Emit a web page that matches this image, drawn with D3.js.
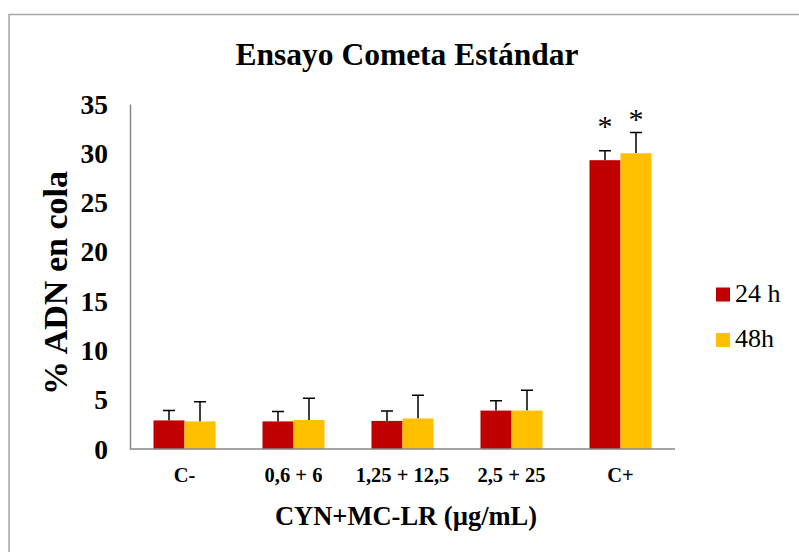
<!DOCTYPE html>
<html>
<head>
<meta charset="utf-8">
<script src="https://cdn.jsdelivr.net/npm/d3@7"></script>
<style>
  body { margin: 0; background: #fff; }
  svg text { font-family: "Liberation Serif", "Times New Roman", serif; fill: #000; }
</style>
</head>
<body>
<div id="chart"></div>
<script>
// Data
const categories = ["C-", "0,6 + 6", "1,25 + 12,5", "2,5 + 25", "C+"];
const seriesNames = ["24 h", "48h"];
const values24 = [2.9, 2.8, 2.85, 3.9, 29.3];
const errors24 = [1.0, 1.0, 1.0, 1.0, 0.95];
const values48 = [2.8, 2.95, 3.1, 3.9, 30.0];
const errors48 = [2.0, 2.2, 2.35, 2.05, 2.1];
const marks24 = ["", "", "", "", "*"];
const marks48 = ["", "", "", "", "*"];
const yTicks = [0, 5, 10, 15, 20, 25, 30, 35];
const colors = ["#C00000", "#FFC000"];

const W = 799, H = 552;
const plot = { left: 130, right: 675, top: 104, bottom: 449 };
const serif = "'Liberation Serif', 'Times New Roman', serif";

const svg = d3.select("#chart")
    .append("svg")
    .attr("width", W)
    .attr("height", H);

// outer frame (only top/left visible in the picture)
svg.append("rect")
    .attr("x", 9)
    .attr("y", 14.5)
    .attr("width", 820)
    .attr("height", 600)
    .attr("fill", "none")
    .attr("stroke", "#a6a6a6")
    .attr("stroke-width", 1.5);

const x0 = d3.scaleBand()
    .domain(categories)
    .range([plot.left, plot.right])
    .paddingInner(0.431)
    .paddingOuter(0.2155);

const x1 = d3.scaleBand()
    .domain(seriesNames)
    .range([0, x0.bandwidth()]);

const y = d3.scaleLinear()
    .domain([0, 35])
    .range([plot.bottom, plot.top]);

// build rows from the arrays
const rows = categories.map((c, i) => ({
    cat: c,
    bars: [
        { s: seriesNames[0], v: values24[i], e: errors24[i], m: marks24[i], col: colors[0] },
        { s: seriesNames[1], v: values48[i], e: errors48[i], m: marks48[i], col: colors[1] }
    ]
}));

const groups = svg.selectAll(".grp")
    .data(rows)
    .enter()
    .append("g")
    .attr("class", "grp")
    .attr("transform", d => `translate(${x0(d.cat)},0)`);

// error bars (plus only) drawn first
groups.selectAll(".err")
    .data(d => d.bars)
    .enter()
    .append("path")
    .attr("class", "err")
    .attr("d", d => {
        const cx = x1(d.s) + x1.bandwidth() / 2;
        const yt = y(d.v + d.e);
        return `M${cx},${y(d.v)}V${yt}M${cx - 6},${yt}H${cx + 6}`;
    })
    .attr("fill", "none")
    .attr("stroke", "#000")
    .attr("stroke-width", 1.5);

groups.selectAll(".bar")
    .data(d => d.bars)
    .enter()
    .append("rect")
    .attr("class", "bar")
    .attr("x", d => x1(d.s))
    .attr("y", d => y(d.v))
    .attr("width", x1.bandwidth())
    .attr("height", d => y(0) - y(d.v))
    .attr("fill", d => d.col);

// significance marks
groups.selectAll(".mark")
    .data(d => d.bars.filter(b => b.m))
    .enter()
    .append("text")
    .attr("class", "mark")
    .attr("x", d => x1(d.s) + x1.bandwidth() / 2)
    .attr("y", d => y(d.v) - 24)
    .attr("text-anchor", "middle")
    .style("font-family", serif)
    .style("font-size", "30px")
    .text(d => d.m);

// y axis
const yAxis = svg.append("g")
    .attr("transform", `translate(${plot.left},0)`)
    .call(d3.axisLeft(y).tickValues(yTicks).tickSize(0).tickPadding(22));
yAxis.select(".domain").attr("stroke", "#868686").attr("stroke-width", 1.5);
yAxis.selectAll("text")
    .attr("dy", null)
    .attr("y", 9)
    .style("font-size", "27.5px")
    .style("font-weight", "bold")
    .style("font-family", serif);

// x axis
const xAxis = svg.append("g")
    .attr("transform", `translate(0,${plot.bottom})`)
    .call(d3.axisBottom(x0).tickSize(0).tickSizeOuter(0));
xAxis.select(".domain").attr("stroke", "#868686").attr("stroke-width", 1.5)
    .attr("d", `M${plot.left},0H${plot.right}`);
xAxis.selectAll("text")
    .attr("dy", null)
    .attr("y", 33)
    .style("font-size", "20.5px")
    .style("font-weight", "bold")
    .style("font-family", serif);

// titles
svg.append("text")
    .attr("x", 407)
    .attr("y", 65)
    .attr("text-anchor", "middle")
    .style("font-family", serif)
    .style("font-size", "31.5px")
    .style("font-weight", "bold")
    .text("Ensayo Cometa Estándar");

svg.append("text")
    .attr("x", 406)
    .attr("y", 525)
    .attr("text-anchor", "middle")
    .style("font-family", serif)
    .style("font-size", "26.5px")
    .style("font-weight", "bold")
    .text("CYN+MC-LR (µg/mL)");

svg.append("text")
    .attr("transform", "translate(67,283) rotate(-90)")
    .attr("text-anchor", "middle")
    .style("font-family", serif)
    .style("font-size", "34px")
    .style("font-weight", "bold")
    .text("% ADN en cola");

// legend
const legend = svg.selectAll(".leg")
    .data(seriesNames)
    .enter()
    .append("g")
    .attr("class", "leg")
    .attr("transform", (d, i) => `translate(716,${287.5 + i * 45.5})`);
legend.append("rect")
    .attr("width", 14)
    .attr("height", 14)
    .attr("fill", (d, i) => colors[i]);
legend.append("text")
    .attr("x", 19)
    .attr("y", 14)
    .style("font-family", serif)
    .style("font-size", "26px")
    .text(d => d);
</script>
</body>
</html>
